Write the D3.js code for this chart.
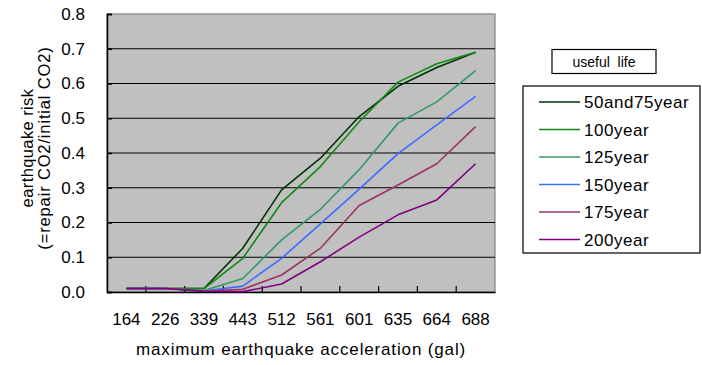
<!DOCTYPE html>
<html>
<head>
<meta charset="utf-8">
<script src="https://cdn.jsdelivr.net/npm/d3@7/dist/d3.min.js"></script>
<style>
  html, body { margin: 0; padding: 0; background: #fff; }
  svg { display: block; font-family: "Liberation Sans", Arial, sans-serif; }
</style>
</head>
<body>
<svg id="chart" width="702" height="365"></svg>
<script>
// maximum earthquake acceleration (gal)
const categories = ["164", "226", "339", "443", "512", "561", "601", "635", "664", "688"];

const seriesNames = ["50and75year", "100year", "125year", "150year", "175year", "200year"];
const seriesColors = ["#003300", "#108a10", "#339966", "#3a6cff", "#993366", "#800080"];

const risk50and75 = [0.010, 0.010, 0.010, 0.126, 0.294, 0.385, 0.505, 0.592, 0.646, 0.690];
const risk100     = [0.010, 0.010, 0.010, 0.097, 0.257, 0.361, 0.490, 0.604, 0.657, 0.690];
const risk125     = [0.010, 0.010, 0.004, 0.039, 0.150, 0.238, 0.352, 0.486, 0.547, 0.637];
const risk150     = [0.010, 0.010, 0.003, 0.017, 0.097, 0.196, 0.296, 0.398, 0.481, 0.563];
const risk175     = [0.010, 0.010, 0.002, 0.008, 0.049, 0.126, 0.249, 0.308, 0.369, 0.476];
const risk200     = [0.010, 0.010, 0.002, 0.001, 0.023, 0.087, 0.158, 0.222, 0.265, 0.369];

const yTicks = [0, 0.1, 0.2, 0.3, 0.4, 0.5, 0.6, 0.7, 0.8];

const seriesValues = [risk50and75, risk100, risk125, risk150, risk175, risk200];

const svg = d3.select("#chart");
const plot = { left: 107, top: 14, right: 495, bottom: 292 };

const x = d3.scaleBand().domain(categories).range([plot.left, plot.right]);
const y = d3.scaleLinear().domain([0, 0.8]).range([plot.bottom, plot.top]);

// plot background
svg.append("rect")
  .attr("x", plot.left).attr("y", plot.top)
  .attr("width", plot.right - plot.left).attr("height", plot.bottom - plot.top)
  .attr("fill", "#c0c0c0")
  .attr("stroke", "#808080").attr("stroke-width", 1.2);

// horizontal gridlines
svg.append("g").selectAll("line")
  .data(yTicks.filter(t => t > 0 && t < 0.8))
  .join("line")
  .attr("x1", plot.left).attr("x2", plot.right)
  .attr("y1", d => y(d)).attr("y2", d => y(d))
  .attr("stroke", "#000").attr("stroke-width", 1);

// y axis
const yAxis = svg.append("g")
  .attr("transform", `translate(${plot.left},0)`)
  .call(d3.axisLeft(y).tickValues(yTicks).tickFormat(d3.format(".1f")).tickSize(-5).tickPadding(22));
yAxis.select(".domain").attr("stroke", "#000").attr("stroke-width", 1.5);
yAxis.selectAll(".tick line").attr("stroke", "#000").attr("stroke-width", 1.5);
yAxis.selectAll(".tick text").attr("font-size", 17).attr("fill", "#000")
  .attr("font-family", "Liberation Sans, Arial, sans-serif");

// x axis, ticks on category boundaries
const xAxis = svg.append("g")
  .attr("transform", `translate(0,${plot.bottom})`)
  .call(d3.axisBottom(x).tickSize(0).tickPadding(21));
xAxis.select(".domain").attr("stroke", "#000").attr("stroke-width", 1.5);
xAxis.selectAll(".tick text").attr("font-size", 17).attr("fill", "#000")
  .attr("font-family", "Liberation Sans, Arial, sans-serif");
svg.append("g").selectAll("line")
  .data(categories.slice(1))
  .join("line")
  .attr("x1", d => x(d)).attr("x2", d => x(d))
  .attr("y1", plot.bottom).attr("y2", plot.bottom - 6)
  .attr("stroke", "#000").attr("stroke-width", 1.2);

// series lines
const line = d3.line()
  .x((d, i) => x(categories[i]) + x.bandwidth() / 2)
  .y(d => y(d));

svg.append("g").selectAll("path")
  .data(seriesValues)
  .join("path")
  .attr("d", d => line(d))
  .attr("fill", "none")
  .attr("stroke", (d, i) => seriesColors[i])
  .attr("stroke-width", 1.6)
  .attr("stroke-linejoin", "round");

// axis titles
svg.append("text")
  .attr("x", 301).attr("y", 355)
  .attr("text-anchor", "middle").attr("font-size", 17).attr("fill", "#000")
  .attr("letter-spacing", 0.85)
  .text("maximum earthquake acceleration (gal)");

const yTitle = svg.append("g").attr("transform", "translate(0,148) rotate(-90)");
yTitle.append("text")
  .attr("x", 0).attr("y", 33)
  .attr("text-anchor", "middle").attr("font-size", 16.5).attr("fill", "#000")
  .attr("letter-spacing", 0.4)
  .text("earthquake risk");
yTitle.append("text")
  .attr("x", 0).attr("y", 50)
  .attr("text-anchor", "middle").attr("font-size", 16.5).attr("fill", "#000")
  .attr("letter-spacing", 0.85)
  .text("(=repair CO2/initial CO2)");

// legend title box
svg.append("rect")
  .attr("x", 552).attr("y", 49.5).attr("width", 104).attr("height", 24)
  .attr("fill", "#fff").attr("stroke", "#000").attr("stroke-width", 1.2);
svg.append("text")
  .attr("x", 604).attr("y", 67).attr("text-anchor", "middle")
  .attr("font-size", 14).attr("fill", "#000")
  .attr("xml:space", "preserve").style("white-space", "pre")
  .text("useful  life");

// legend
svg.append("rect")
  .attr("x", 523).attr("y", 86).attr("width", 177).attr("height", 167)
  .attr("fill", "#fff").attr("stroke", "#000").attr("stroke-width", 1.2);

const legendRows = svg.append("g").selectAll("g")
  .data(seriesNames)
  .join("g")
  .attr("transform", (d, i) => `translate(0,${102 + i * 27.5})`);
legendRows.append("line")
  .attr("x1", 539).attr("x2", 580).attr("y1", 0).attr("y2", 0)
  .attr("stroke", (d, i) => seriesColors[i]).attr("stroke-width", 1.6);
legendRows.append("text")
  .attr("x", 584).attr("y", 6)
  .attr("font-size", 17).attr("fill", "#000")
  .attr("letter-spacing", 0.55)
  .text(d => d);
</script>
</body>
</html>
